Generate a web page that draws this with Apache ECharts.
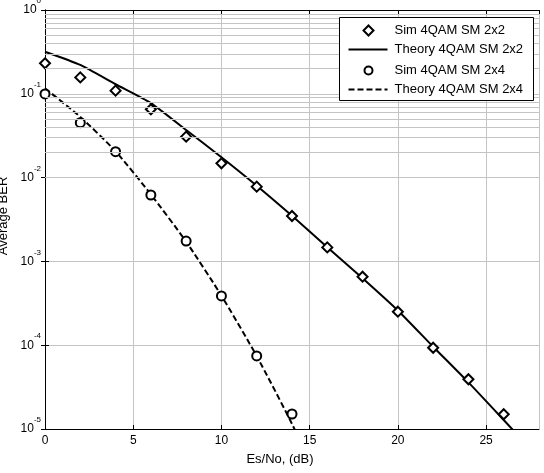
<!DOCTYPE html>
<html>
<head>
<meta charset="utf-8">
<script src="https://cdn.jsdelivr.net/npm/echarts@6/dist/echarts.min.js"></script>
<style>
html, body { margin: 0; padding: 0; background: #fff; }
#chart { width: 544px; height: 473px; }
</style>
</head>
<body>
<div id="chart"></div>
<script>
// Es/No (dB) points
const snr22 = [0, 2, 4, 6, 8, 10, 12, 14, 16, 18, 20, 22, 24, 26]
const snrTheory22 = [0, 2, 4, 6, 8, 10, 12, 14, 16, 18, 20, 22, 24, 26, 28]
const snr24 = [0, 2, 4, 6, 8, 10, 12, 14]
const snrTheory24 = [0, 2, 4, 6, 8, 10, 12, 14, 16]

// BER values
const sim22 = [0.231, 0.157, 0.109, 0.0653, 0.0308, 0.0148, 0.0078, 0.00348, 0.00147, 0.000657, 0.000251, 0.0000933, 0.0000392, 0.000015]
const theory22 = [0.318, 0.221, 0.13, 0.0775, 0.037, 0.0175, 0.008, 0.0035, 0.00148, 0.00063, 0.00026, 0.000096, 0.000036, 0.0000128, 0.0000045]
const sim24 = [0.0995, 0.0452, 0.0204, 0.0062, 0.00175, 0.000387, 0.0000745, 0.0000151]
const theory24 = [0.116, 0.053, 0.0206, 0.0063, 0.00172, 0.00039, 0.000074, 0.0000115, 0.0000014]

const legendNames = ["Sim 4QAM SM 2x2", "Theory 4QAM SM 2x2", "Sim 4QAM SM 2x4", "Theory 4QAM SM 2x4"]

const xTicks = { min: 0, max: 28, interval: 5 }
const yRange = { min: 0.00001, max: 1 }

const font = "'Liberation Sans', Arial, sans-serif"
const gridColor = "#c4c4c4"

const pairs = (xs, ys) => xs.map((x, i) => [x, ys[i]])

// minor grid lines of the log axis (2..9 in each decade)
let minorLines = []
for (let e = -5; e < 0; e++) {
	for (let k = 2; k <= 9; k++) {
		minorLines.push({ yAxis: k * Math.pow(10, e) })
	}
}

// legend box drawn by hand, like the matlab one
const rowY = [13, 32, 53, 72]
let legendItems = [
	{ type: "rect", shape: { x: 0, y: 0, width: 194, height: 83 }, style: { fill: "#fff", stroke: "#000", lineWidth: 1 } },
	{ type: "polygon", shape: { points: [[29, rowY[0] - 5], [34, rowY[0]], [29, rowY[0] + 5], [24, rowY[0]]] }, style: { fill: "#fff", stroke: "#000", lineWidth: 2 } },
	{ type: "line", shape: { x1: 9, y1: rowY[1], x2: 48, y2: rowY[1] }, style: { stroke: "#000", lineWidth: 2 } },
	{ type: "circle", shape: { cx: 29, cy: rowY[2], r: 4 }, style: { fill: "#fff", stroke: "#000", lineWidth: 2 } },
	{ type: "line", shape: { x1: 9, y1: rowY[3], x2: 48, y2: rowY[3] }, style: { stroke: "#000", lineWidth: 2, lineDash: [6, 3] } }
]
legendNames.forEach((name, i) => {
	legendItems.push({
		type: "text",
		x: 55,
		y: rowY[i],
		style: { text: name, font: "13px " + font, fill: "#000", verticalAlign: "middle", align: "left" }
	})
})
legendItems.forEach(el => {
	el.z = 100
	el.zlevel = 1
})

let chart = echarts.init(document.getElementById("chart"), null, { renderer: "canvas" })

let option = {
	animation: false,
	backgroundColor: "#fff",
	textStyle: { fontFamily: font },
	grid: { left: 45, right: 5, top: 10, bottom: 44, outerBoundsMode: "none", containLabel: false },
	graphic: [
		{ type: "group", left: 339, top: 17, z: 100, zlevel: 1, children: legendItems }
	],
	xAxis: [
		{
			type: "value",
			min: xTicks.min,
			max: xTicks.max,
			interval: xTicks.interval,
			name: "Es/No, (dB)",
			nameLocation: "middle",
			nameGap: 24,
			nameTextStyle: { fontFamily: font, fontSize: 13, color: "#000", padding: [0, 24, 0, 0] },
			axisLine: { lineStyle: { color: "#000", width: 1 } },
			axisTick: { inside: true, length: 4, lineStyle: { color: "#000" } },
			axisLabel: { showMaxLabel: false, margin: 6, fontSize: 12, color: "#000", fontFamily: font },
			splitLine: { show: true, lineStyle: { color: gridColor, width: 1 } }
		},
		{
			type: "value",
			position: "top",
			min: xTicks.min,
			max: xTicks.max,
			interval: xTicks.interval,
			axisLine: { show: true, lineStyle: { color: "#000", width: 1 } },
			axisTick: { show: true, inside: true, length: 4, lineStyle: { color: "#000" } },
			axisLabel: { show: false },
			splitLine: { show: false }
		}
	],
	yAxis: [
		{
			type: "log",
			logBase: 10,
			min: yRange.min,
			max: yRange.max,
			name: "Average BER",
			nameLocation: "middle",
			nameGap: 33,
			nameTextStyle: { fontFamily: font, fontSize: 13, color: "#000", padding: [0, 0, 0, 7] },
			axisLine: { show: true, lineStyle: { color: "#000", width: 1 } },
			axisTick: { show: true, inside: true, length: 4, lineStyle: { color: "#000" } },
			axisLabel: {
				margin: 4,
				formatter: function (v) {
					return "{b|10}{s|" + Math.round(Math.log10(v)) + "}"
				},
				rich: {
					b: { fontSize: 12, lineHeight: 26, color: "#000", fontFamily: font },
					s: { fontSize: 8, lineHeight: 9, verticalAlign: "top", color: "#000", fontFamily: font }
				}
			},
			splitLine: { show: true, lineStyle: { color: gridColor, width: 1 } }
		},
		{
			type: "log",
			logBase: 10,
			min: yRange.min,
			max: yRange.max,
			position: "right",
			axisLine: { show: true, lineStyle: { color: "#000", width: 1 } },
			axisTick: { show: true, inside: true, length: 4, lineStyle: { color: "#000" } },
			axisLabel: { show: false },
			splitLine: { show: false }
		}
	],
	series: [
		{
			name: "minor grid",
			type: "line",
			data: [],
			z: 1,
			silent: true,
			markLine: {
				silent: true,
				symbol: ["none", "none"],
				label: { show: false },
				animation: false,
				lineStyle: { color: gridColor, width: 1, type: "solid" },
				data: minorLines
			}
		},
		{
			name: legendNames[1],
			type: "line",
			symbol: "none",
			smooth: 0.2,
			z: 3,
			lineStyle: { color: "#000", width: 2 },
			itemStyle: { color: "#000" },
			data: pairs(snrTheory22, theory22)
		},
		{
			name: legendNames[3],
			type: "line",
			symbol: "none",
			smooth: 0.2,
			z: 3,
			lineStyle: { color: "#000", width: 2, type: [6, 3] },
			itemStyle: { color: "#000" },
			data: pairs(snrTheory24, theory24)
		},
		{
			name: legendNames[0],
			type: "scatter",
			symbol: "diamond",
			symbolSize: 10,
			z: 4,
			itemStyle: { color: "#fff", borderColor: "#000", borderWidth: 2, opacity: 1 },
			data: pairs(snr22, sim22)
		},
		{
			name: legendNames[2],
			type: "scatter",
			symbol: "circle",
			symbolSize: 9,
			z: 4,
			itemStyle: { color: "#fff", borderColor: "#000", borderWidth: 2, opacity: 1 },
			data: pairs(snr24, sim24)
		}
	]
}

chart.setOption(option)
</script>
</body>
</html>
